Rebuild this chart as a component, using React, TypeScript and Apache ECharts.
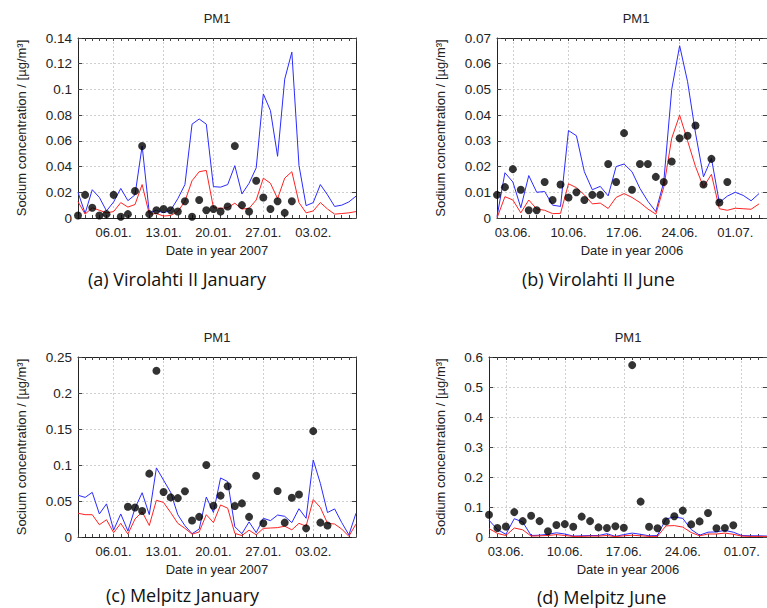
import React, { useEffect, useRef } from "react";
import * as echarts from "echarts";

// ---------- data ----------
const janTicks = ["06.01.", "13.01.", "20.01.", "27.01.", "03.02."];
const junTicks = ["03.06.", "10.06.", "17.06.", "24.06.", "01.07."];

const virJanModelBlue = [0.020, 0.0036, 0.022, 0.016, 0.0055, 0.0125, 0.023, 0.0135, 0.018, 0.056, 0.004, 0.006, 0.004, 0.006, 0.015, 0.026, 0.073, 0.077, 0.073, 0.0244, 0.024, 0.026, 0.0407, 0.0187, 0.027, 0.039, 0.0965, 0.0835, 0.048, 0.108, 0.129, 0.041, 0.0096, 0.012, 0.026, 0.018, 0.009, 0.010, 0.0125, 0.017];
const virJanModelRed = [0.0127, 0.003, 0.008, 0.006, 0.004, 0.005, 0.012, 0.0085, 0.0105, 0.026, 0.003, 0.0035, 0.0015, 0.002, 0.005, 0.013, 0.029, 0.036, 0.037, 0.008, 0.0075, 0.008, 0.0115, 0.007, 0.0075, 0.014, 0.031, 0.027, 0.015, 0.031, 0.036, 0.012, 0.004, 0.0055, 0.012, 0.007, 0.003, 0.0035, 0.004, 0.005];
const virJanObs = [0.002, 0.018, 0.008, 0.002, 0.003, 0.018, 0.001, 0.003, 0.021, 0.056, 0.003, 0.006, 0.007, 0.006, 0.005, 0.013, 0.001, 0.014, 0.006, 0.007, 0.005, 0.009, 0.056, 0.010, 0.005, 0.029, 0.016, 0.007, 0.013, 0.004, 0.013];

const virJunModelBlue = [0.0005, 0.0176, 0.014, 0.004, 0.0165, 0.010, 0.0103, 0.005, 0.0045, 0.034, 0.032, 0.018, 0.011, 0.0123, 0.0086, 0.020, 0.021, 0.018, 0.0115, 0.0065, 0.0025, 0.014, 0.050, 0.067, 0.053, 0.033, 0.016, 0.0232, 0.006, 0.0085, 0.010, 0.0088, 0.0067, 0.0095];
const virJunModelRed = [0.0, 0.0083, 0.007, 0.002, 0.007, 0.0035, 0.003, 0.0017, 0.0018, 0.0133, 0.0118, 0.009, 0.0055, 0.0058, 0.0037, 0.008, 0.0095, 0.008, 0.006, 0.0035, 0.0015, 0.012, 0.031, 0.040, 0.030, 0.020, 0.012, 0.017, 0.0036, 0.003, 0.0038, 0.0036, 0.0034, 0.0055];
const virJunObs = [0.009, 0.012, 0.019, 0.011, 0.003, 0.003, 0.014, 0.007, 0.013, 0.008, 0.010, 0.007, 0.009, 0.009, 0.021, 0.014, 0.033, 0.011, 0.021, 0.021, 0.016, 0.014, 0.022, 0.031, 0.032, 0.036, 0.013, 0.023, 0.006, 0.014];

const melJanModelBlue = [0.058, 0.055, 0.062, 0.032, 0.046, 0.0097, 0.032, 0.0083, 0.040, 0.0615, 0.031, 0.096, 0.079, 0.062, 0.031, 0.0157, 0.0046, 0.011, 0.0555, 0.034, 0.082, 0.077, 0.0143, 0.0046, 0.021, 0.006, 0.026, 0.0227, 0.0305, 0.0287, 0.020, 0.0393, 0.026, 0.107, 0.0745, 0.034, 0.039, 0.020, 0.003, 0.033];
const melJanModelRed = [0.033, 0.031, 0.031, 0.017, 0.024, 0.006, 0.019, 0.004, 0.025, 0.035, 0.016, 0.051, 0.048, 0.034, 0.019, 0.012, 0.004, 0.007, 0.031, 0.020, 0.0445, 0.040, 0.005, 0.002, 0.0095, 0.003, 0.012, 0.0125, 0.013, 0.015, 0.010, 0.019, 0.015, 0.052, 0.041, 0.019, 0.018, 0.011, 0.001, 0.018];
const melJanObs = [null, null, null, null, null, null, null, 0.042, 0.041, 0.036, 0.088, 0.231, 0.0625, 0.055, 0.054, 0.0635, 0.023, 0.028, 0.100, 0.0435, 0.0575, 0.0705, 0.043, 0.0467, 0.028, 0.085, 0.019, null, 0.064, 0.020, 0.0545, 0.059, 0.012, 0.147, 0.020, 0.016];

const melJunModelBlue = [0.056, 0.025, 0.009, 0.061, 0.050, 0.005, 0.006, 0.009, 0.014, 0.010, 0.003, 0.004, 0.005, 0.005, 0.011, 0.002, 0.008, 0.013, 0.009, 0.004, 0.005, 0.060, 0.067, 0.062, 0.025, 0.006, 0.016, 0.017, 0.022, 0.016, 0.005, 0.004, 0.004, 0.003];
const melJunModelRed = [0.028, 0.012, 0.005, 0.030, 0.024, 0.003, 0.004, 0.005, 0.008, 0.005, 0.002, 0.002, 0.003, 0.003, 0.005, 0.001, 0.004, 0.006, 0.004, 0.002, 0.002, 0.037, 0.038, 0.033, 0.015, 0.004, 0.010, 0.010, 0.013, 0.009, 0.003, 0.002, 0.002, 0.002];
const melJunObs = [0.074, 0.030, 0.035, 0.083, 0.053, 0.071, 0.053, 0.019, 0.040, 0.043, 0.034, 0.068, 0.053, 0.032, 0.030, 0.036, 0.031, 0.573, 0.118, 0.034, 0.029, 0.052, 0.069, 0.088, 0.042, 0.052, 0.080, 0.029, 0.030, 0.039];

function makeDates(year: number, month: number, day: number, n: number): string[] {
  const out: string[] = [];
  for (let i = 0; i < n; i++) {
    const d = new Date(Date.UTC(year, month, day + i));
    const dd = String(d.getUTCDate()).padStart(2, "0");
    const mm = String(d.getUTCMonth() + 1).padStart(2, "0");
    out.push(dd + "." + mm + ".");
  }
  return out;
}

const janDays = makeDates(2007, 0, 1, 40);
const junDaysB = makeDates(2006, 5, 1, 35);
const junDaysD = makeDates(2006, 5, 1, 34);

const FONT = "'Liberation Sans', Arial, sans-serif";

const panels = [
  { grid: { left: 78, top: 38, width: 278, height: 180 }, cats: janDays, ticks: janTicks, max: 0.14, interval: 0.02, xName: "Date in year 2007", yName: "Socium concentration / [µg/m³]", yGap: 50, blue: virJanModelBlue, red: virJanModelRed, obs: virJanObs, caption: "(a) Virolahti II January", capX: 88, capY: 279 },
  { grid: { left: 497, top: 38, width: 278, height: 180 }, cats: junDaysB, ticks: junTicks, max: 0.07, interval: 0.01, xName: "Date in year 2006", yName: "Sodium concentration / [µg/m³]", yGap: 50, blue: virJunModelBlue, red: virJunModelRed, obs: virJunObs, caption: "(b) Virolahti II June", capX: 522, capY: 279 },
  { grid: { left: 78, top: 357, width: 278, height: 180 }, cats: janDays, ticks: janTicks, max: 0.25, interval: 0.05, xName: "Date in year 2007", yName: "Socium concentration / [µg/m³]", yGap: 50, blue: melJanModelBlue, red: melJanModelRed, obs: melJanObs, caption: "(c) Melpitz January", capX: 106, capY: 595 },
  { grid: { left: 489, top: 357, width: 278, height: 180 }, cats: junDaysD, ticks: junTicks, max: 0.6, interval: 0.1, xName: "Date in year 2006", yName: "Sodium concentration / [µg/m³]", yGap: 42, blue: melJunModelBlue, red: melJunModelRed, obs: melJunObs, caption: "(d) Melpitz June", capX: 537, capY: 597 },
];

function buildOption() {
  const grid: any[] = [];
  const xAxis: any[] = [];
  const yAxis: any[] = [];
  const series: any[] = [];
  const elements: any[] = [];
  const axisLineStyle = { color: "#222", width: 1 };

  panels.forEach((p, i) => {
    grid.push({ ...p.grid, containLabel: false });
    const isTick = (idx: number, val: string) => p.ticks.includes(p.cats[idx] ?? val);
    xAxis.push({
      gridIndex: i, type: "category", data: p.cats, boundaryGap: false, position: "bottom",
      name: p.xName, nameLocation: "middle", nameGap: 26,
      nameTextStyle: { fontFamily: FONT, fontSize: 13, color: "#222" },
      axisLine: { show: true, onZero: false, lineStyle: axisLineStyle },
      axisTick: { show: true, inside: true, interval: 0, length: 3, lineStyle: { color: "#444" } },
      axisLabel: { interval: isTick, fontFamily: FONT, fontSize: 13, color: "#222", margin: 8 },
      splitLine: { show: true, interval: isTick, lineStyle: { color: "#cfcfcf", type: [2, 2], width: 1 } },
    });
    xAxis.push({
      gridIndex: i, type: "category", data: p.cats, boundaryGap: false, position: "top",
      axisLine: { show: true, onZero: false, lineStyle: axisLineStyle },
      axisTick: { show: true, inside: true, interval: 0, length: 3, lineStyle: { color: "#444" } },
      axisLabel: { show: false }, splitLine: { show: false },
    });
    yAxis.push({
      gridIndex: i, type: "value", min: 0, max: p.max, interval: p.interval, position: "left",
      name: p.yName, nameLocation: "middle", nameRotate: 90, nameGap: p.yGap,
      nameTextStyle: { fontFamily: FONT, fontSize: 13, color: "#222" },
      axisLine: { show: true, onZero: false, lineStyle: axisLineStyle },
      axisTick: { show: true, inside: true, length: 4, lineStyle: { color: "#444" } },
      axisLabel: { fontFamily: FONT, fontSize: 13.5, color: "#222", margin: 6 },
      splitLine: { show: true, lineStyle: { color: "#cfcfcf", type: [2, 2], width: 1 } },
    });
    yAxis.push({
      gridIndex: i, type: "value", min: 0, max: p.max, interval: p.interval, position: "right",
      axisLine: { show: true, onZero: false, lineStyle: axisLineStyle },
      axisTick: { show: true, inside: true, length: 4, lineStyle: { color: "#444" } },
      axisLabel: { show: false }, splitLine: { show: false },
    });
    series.push({
      type: "line", xAxisIndex: 2 * i, yAxisIndex: 2 * i, data: p.blue, symbol: "none",
      lineStyle: { color: "#2b2bff", width: 1 }, itemStyle: { color: "#2b2bff" }, z: 2,
    });
    series.push({
      type: "line", xAxisIndex: 2 * i, yAxisIndex: 2 * i, data: p.red, symbol: "none",
      lineStyle: { color: "#ff2222", width: 1 }, itemStyle: { color: "#ff2222" }, z: 3,
    });
    series.push({
      type: "scatter", xAxisIndex: 2 * i, yAxisIndex: 2 * i, data: p.obs, symbol: "circle",
      symbolSize: 8, itemStyle: { color: "#000" }, z: 4,
    });
    elements.push({
      type: "text", x: p.grid.left + p.grid.width / 2, y: p.grid.top - 20,
      style: { text: "PM1", fill: "#222", font: `13px ${FONT}`, align: "center", verticalAlign: "middle", textAlign: "center", textVerticalAlign: "middle" },
    });
    elements.push({
      type: "text", x: p.capX, y: p.capY,
      style: { text: p.caption, fill: "#111", font: `18px 'Open Sans', 'Noto Sans', sans-serif`, align: "left", verticalAlign: "middle", textAlign: "left", textVerticalAlign: "middle" },
    });
  });

  return {
    animation: false,
    backgroundColor: "#fff",
    textStyle: { fontFamily: FONT },
    grid, xAxis, yAxis, series,
    graphic: { elements },
  };
}

export default function App() {
  const ref = useRef<HTMLDivElement>(null);
  useEffect(() => {
    if (!ref.current) return;
    const chart = echarts.init(ref.current, undefined, { renderer: "svg" });
    chart.setOption(buildOption() as any);
    return () => chart.dispose();
  }, []);
  return <div ref={ref} style={{ position: "absolute", left: 0, top: 0, width: 767, height: 608 }} />;
}
